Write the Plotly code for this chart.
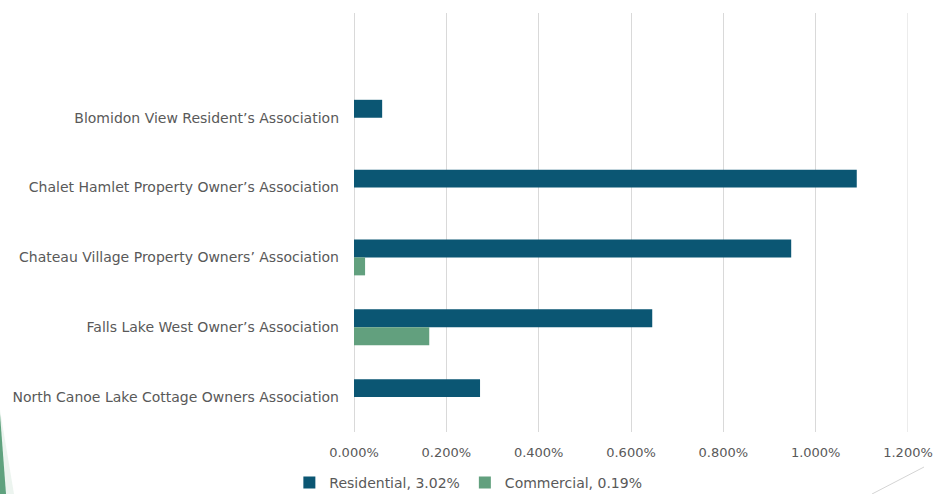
import plotly.graph_objects as go

categories = [
    "Blomidon View Resident’s Association",
    "Chalet Hamlet Property Owner’s Association",
    "Chateau Village Property Owners’ Association",
    "Falls Lake West Owner’s Association",
    "North Canoe Lake Cottage Owners Association",
]
residential = [0.061, 1.089, 0.947, 0.646, 0.273]
commercial = [None, None, 0.024, 0.163, None]
series_names = ["Residential, 3.02%", "Commercial, 0.19%"]
x_ticks = [0, 0.2, 0.4, 0.6, 0.8, 1.0, 1.2]
x_tick_labels = ["0.000%", "0.200%", "0.400%", "0.600%", "0.800%", "1.000%", "1.200%"]

W, H = 933, 494
L, R, T, B = 354, 908, 13, 432

fig = go.Figure()
fig.add_trace(go.Bar(y=categories, x=residential, orientation="h", name=series_names[0],
                     marker=dict(color="#0b5673", line=dict(width=0))))
fig.add_trace(go.Bar(y=categories, x=commercial, orientation="h", name=series_names[1],
                     marker=dict(color="#62a07e", line=dict(width=0))))

def px(x):
    return (x - L) / (R - L)

def py(y):
    return (B - y) / (B - T)

shapes = [
    dict(type="path", xref="paper", yref="paper",
         path=f"M {px(0)} {py(410)} L {px(14)} {py(494)} L {px(0)} {py(494)} Z",
         fillcolor="rgba(95,162,126,0.12)", line=dict(width=0), layer="below"),
    dict(type="path", xref="paper", yref="paper",
         path=f"M {px(0)} {py(414)} L {px(6)} {py(494)} L {px(0)} {py(494)} Z",
         fillcolor="#5fa27e", line=dict(width=0), layer="below"),
    dict(type="line", xref="paper", yref="paper",
         x0=px(872), y0=py(494), x1=px(924), y1=py(467),
         line=dict(color="#d4d4d4", width=1)),
    # gridline at the right edge (max tick)
    dict(type="line", xref="x", yref="paper",
         x0=x_ticks[-1], x1=x_ticks[-1], y0=0, y1=1,
         line=dict(color="#d9d9d9", width=1), layer="below"),
]

FONT = "DejaVu Sans, sans-serif"

fig.update_layout(
    width=W, height=H,
    margin=dict(l=L, r=W - R, t=T, b=H - B, pad=0, autoexpand=False),
    paper_bgcolor="white", plot_bgcolor="white",
    barmode="group", bargap=0.486, bargroupgap=0,
    font=dict(family=FONT, size=14, color="#595959"),
    xaxis=dict(range=[0, 1.2], tickmode="array", tickvals=x_ticks, ticktext=x_tick_labels,
               showgrid=True, gridcolor="#d9d9d9", gridwidth=1,
               zeroline=True, zerolinecolor="#d9d9d9", zerolinewidth=1,
               showline=False, ticks="", ticklabelstandoff=11, automargin=False,
               tickfont=dict(family=FONT, size=13, color="#595959"), fixedrange=True),
    yaxis=dict(type="category", categoryorder="array", categoryarray=categories,
               range=[4.5, -1.5], showgrid=False, zeroline=False, showline=False,
               ticks="", ticklabelstandoff=14, automargin=False,
               tickfont=dict(family=FONT, size=14, color="#595959")),
    legend=dict(orientation="h", xref="container", yref="container",
                x=0.502, y=1 - 483 / 494, xanchor="center", yanchor="middle",
                font=dict(family=FONT, size=14, color="#595959"), itemwidth=30,
                tracegroupgap=0),
    showlegend=True,
    shapes=shapes,
)

fig.write_html("out.html")
